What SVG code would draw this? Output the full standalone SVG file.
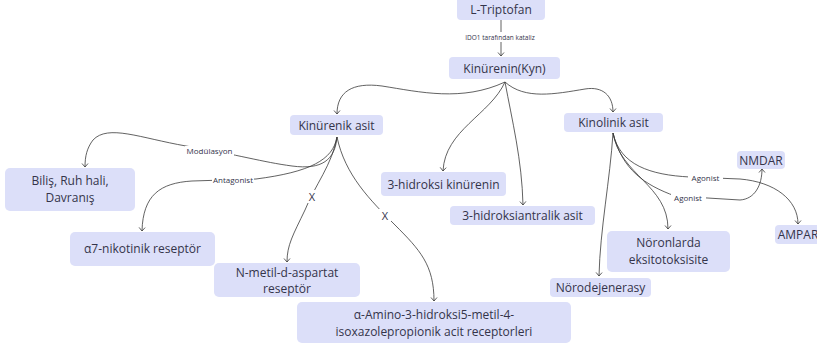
<svg xmlns="http://www.w3.org/2000/svg" width="817" height="346" viewBox="0 0 817 346">
<style>
.n rect{fill:#dcdff9;}
.n text{font-family:"Open Sans","Noto Sans",sans-serif;font-size:12px;fill:#34344a;text-anchor:middle;}
.e path{fill:none;stroke:#3a3a3a;stroke-width:0.8;marker-end:url(#a);}
.lb rect{fill:#ffffff;}
.lb text{font-family:"Open Sans","Noto Sans",sans-serif;font-size:8px;fill:#34344a;text-anchor:middle;}
.lb text.x{font-size:11px;}
</style>
<defs>
<marker id="a" markerWidth="8" markerHeight="8" refX="4" refY="4" orient="auto" markerUnits="userSpaceOnUse">
<path d="M0.5,1 L4,4 L0.5,7" fill="none" stroke="#3a3a3a" stroke-width="0.8"/>
</marker>
</defs>
<rect width="817" height="346" fill="#ffffff"/>
<g id="connectors" class="e">
<path d="M501,20 L501,56"/>
<path d="M505,82 C 462,102 420,92 382,86 C 352,82 337,92 337,114"/>
<path d="M505,82 C 525,100 555,94 585,89 C 603,86 613,96 613,112"/>
<path d="M505,82 C 490,115 445,130 443,171"/>
<path d="M505,82 C 512,120 522,160 523,205"/>
<path d="M337,137 C 335,160 322,170 292,166 C 262,162 240,155 186,146 C 140,138 108,124 93,140 C 87,148 85,156 85,167"/>
<path d="M337,137 C 333,160 310,172 256,179 L 192,181 C 160,183 143,195 142,231"/>
<path d="M337,137 C 332,165 315,185 305,210 C 293,235 287,245 287,262"/>
<path d="M337,137 C 345,175 370,200 395,225 C 420,250 434,265 434,301"/>
<path d="M613,133 C 610,180 600,230 599,276"/>
<path d="M613,133 C 620,175 668,185 668,229"/>
<path d="M613,133 C 620,165 650,175 690,177 L 740,179 C 775,182 798,200 798,224"/>
<path d="M613,133 C 622,170 645,185 675,196 L 740,200 C 755,199 762,185 762,169"/>
</g>
<g id="edge-labels" class="lb">
<rect x="453" y="32" width="94" height="10"/><text x="500" y="40" style="font-size:6.5px">IDO1 tarafından kataliz</text>
<rect x="185" y="146" width="49" height="11"/><text x="209.5" y="154">Modülasyon</text>
<rect x="212" y="175" width="42" height="11"/><text x="233" y="183">Antagonist</text>
<rect x="306" y="190" width="12" height="13"/><text class="x" x="312" y="201">X</text>
<rect x="379" y="209" width="12" height="13"/><text class="x" x="385" y="220">X</text>
<rect x="688" y="173" width="35" height="10"/><text x="705.5" y="181">Agonist</text>
<rect x="671" y="193" width="35" height="10"/><text x="688" y="201">Agonist</text>
</g>
<g id="n-ltriptofan" class="n"><rect x="457" y="-3" width="88" height="23" rx="4"/><text x="501" y="14">L-Triptofan</text></g>
<g id="n-kinurenin" class="n"><rect x="449" y="57" width="111" height="22" rx="4"/><text x="504.5" y="72.5">Kinürenin(Kyn)</text></g>
<g id="n-kinurenik" class="n"><rect x="290" y="115" width="93" height="20" rx="4"/><text x="336.5" y="129.5">Kinürenik asit</text></g>
<g id="n-kinolinik" class="n"><rect x="564" y="113" width="99" height="19" rx="4"/><text x="613.5" y="127">Kinolinik asit</text></g>
<g id="n-bilis" class="n"><rect x="5" y="168" width="130" height="43" rx="5"/><text x="70" y="184.5">Biliş, Ruh hali,</text><text x="70" y="201.5">Davranış</text></g>
<g id="n-3hk" class="n"><rect x="381" y="172" width="125" height="24" rx="4"/><text x="443.5" y="188.5">3-hidroksi kinürenin</text></g>
<g id="n-3haa" class="n"><rect x="450" y="206" width="145" height="19" rx="4"/><text x="522.5" y="220">3-hidroksiantralik asit</text></g>
<g id="n-nmdar" class="n"><rect x="737" y="151" width="48" height="18" rx="4"/><text x="761" y="164.5">NMDAR</text></g>
<g id="n-ampar" class="n"><rect x="775" y="225" width="50" height="19" rx="4"/><text x="798" y="239">AMPAR</text></g>
<g id="n-noronlarda" class="n"><rect x="607" y="231" width="123" height="41" rx="5"/><text x="668.5" y="247">Nöronlarda</text><text x="668.5" y="263.5">eksitotoksisite</text></g>
<g id="n-norodejenerasy" class="n"><rect x="550" y="278" width="101" height="19" rx="4"/><text x="600.5" y="292">Nörodejenerasy</text></g>
<g id="n-a7" class="n"><rect x="70" y="232" width="145" height="34" rx="5"/><text x="142.5" y="253">α7-nikotinik reseptör</text></g>
<g id="n-nmda" class="n"><rect x="214" y="263" width="146" height="34" rx="5"/><text x="287" y="277">N-metil-d-aspartat</text><text x="287" y="293">reseptör</text></g>
<g id="n-ampa" class="n"><rect x="297" y="302" width="274" height="41" rx="5"/><text x="434" y="319">α-Amino-3-hidroksi5-metil-4-</text><text x="434" y="335.5">isoxazolepropionik acit receptorleri</text></g>
</svg>
